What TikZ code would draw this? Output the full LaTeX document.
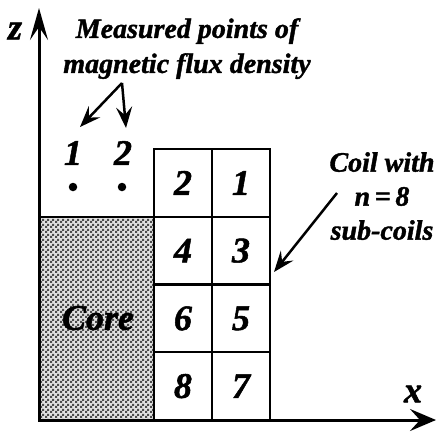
\documentclass[tikz,border=0pt]{standalone}
\usepackage{fontspec}
\setmainfont{Liberation Serif}[BoldItalicFeatures={FakeBold=1.4}]
\usetikzlibrary{arrows.meta,patterns}
\pgfdeclarepatternformonly{coregrain}{\pgfqpoint{0pt}{0pt}}{\pgfqpoint{5pt}{5pt}}{\pgfqpoint{5pt}{5pt}}{%
  \pgfpathrectangle{\pgfpointorigin}{\pgfqpoint{2.5pt}{2.5pt}}%
  \pgfpathrectangle{\pgfqpoint{2.5pt}{2.5pt}}{\pgfqpoint{2.5pt}{2.5pt}}%
  \pgfusepath{fill}}
\begin{document}
\begin{tikzpicture}[x=1pt,y=-1pt,
  lbl/.style={font=\fontsize{28}{35}\selectfont\bfseries\itshape, inner sep=0pt, align=center},
  num/.style={font=\fontsize{36}{40}\selectfont\bfseries\itshape, inner sep=0pt},
  cell/.style={draw, line width=2pt, minimum width=58pt, minimum height=67.75pt, inner sep=0pt,
    font=\fontsize{36}{40}\selectfont\bfseries\itshape},
  ptr/.style={line width=2.5pt, -{Stealth[length=21pt,width=16pt,inset=8pt]}},
  dot/.style={circle, fill, inner sep=0pt, minimum size=8.5pt},
]
\useasboundingbox (0,0) rectangle (436,432);
% core
\fill[black!12] (40,217) rectangle (154,420);
\fill[pattern=coregrain, pattern color=black!70] (40,217) rectangle (154,420);
\draw[line width=2pt] (40,217) -- (154,217);
\node[font=\fontsize{36}{40}\selectfont\bfseries\itshape, inner sep=0pt] (core) at (98,318) {Core};
% coil sub-coils
\node[cell] (c2) at (183,182.9) {2};
\node[cell] (c1) at (241,182.9) {1};
\node[cell] (c4) at (183,250.6) {4};
\node[cell] (c3) at (241,250.6) {3};
\node[cell] (c6) at (183,318.4) {6};
\node[cell] (c5) at (241,318.4) {5};
\node[cell] (c8) at (183,386.1) {8};
\node[cell] (c7) at (241,386.1) {7};
% axes
\coordinate (O) at (39,420);
\coordinate (ztip) at (39,8);
\coordinate (xtip) at (436,420);
\draw[line width=3pt, line join=miter,
  {Stealth[length=32pt,width=18pt,inset=13pt]}-{Stealth[length=26pt,width=22pt,inset=10pt]}]
  (ztip) -- (O) -- (xtip);
\node[num] (zl) at (15,31) {z};
\node[num] (xl) at (413,394) {x};
% measured points
\node[dot] (p1) at (73,187) {};
\node[dot] (p2) at (122,187) {};
\node[num] (n1) at (73,153) {1};
\node[num] (n2) at (123,153) {2};
\node[lbl, anchor=north] (meas) at (187,18) {Measured points of\\magnetic flux density};
\coordinate (apex) at (122,83);
\coordinate (t1) at (80,127);
\coordinate (t2) at (126,128);
\draw[ptr] (apex) -- (t1);
\draw[ptr] (apex) -- (t2);
% coil label
\node[lbl, anchor=north, font=\fontsize{28}{34}\selectfont\bfseries\itshape] (coil) at (382,152) {Coil with\\n\,=\,8\\sub-coils};
\coordinate (cs) at (337,193);
\coordinate (ct) at (274,272);
\draw[ptr] (cs) -- (ct);
\end{tikzpicture}
\end{document}
